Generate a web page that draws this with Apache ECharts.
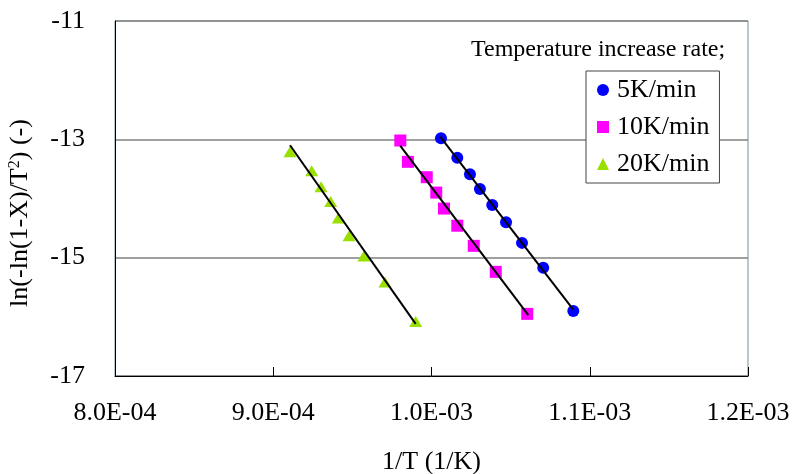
<!DOCTYPE html>
<html>
<head>
<meta charset="utf-8">
<title>Arrhenius plot</title>
<script src="https://cdn.jsdelivr.net/npm/echarts@6/dist/echarts.min.js"></script>
<style>
  html, body { margin: 0; padding: 0; background: #fff; }
  #main { width: 793px; height: 474px; }
</style>
</head>
<body>
<div id="main"></div>
<script>
// measured points, 1/T (1/K) vs ln(-ln(1-X)/T^2)
const x5 = [1.0060e-3, 1.0163e-3, 1.0243e-3, 1.0306e-3, 1.0384e-3, 1.0471e-3, 1.0572e-3, 1.0706e-3, 1.0896e-3];
const y5 = [-12.98, -13.31, -13.59, -13.84, -14.11, -14.40, -14.75, -15.17, -15.90];
const x10 = [9.803e-4, 9.851e-4, 9.970e-4, 1.0030e-3, 1.0079e-3, 1.0163e-3, 1.0267e-3, 1.0406e-3, 1.0605e-3];
const y10 = [-13.02, -13.38, -13.64, -13.90, -14.17, -14.46, -14.80, -15.24, -15.95];
const x20 = [9.106e-4, 9.243e-4, 9.302e-4, 9.363e-4, 9.411e-4, 9.479e-4, 9.573e-4, 9.706e-4, 9.900e-4];
const y20 = [-13.21, -13.53, -13.80, -14.05, -14.33, -14.63, -14.97, -15.41, -16.08];

// fitted lines (end points)
const fitX5 = [1.0056e-3, 1.0896e-3];
const fitY5 = [-12.96, -15.88];
const fitX10 = [9.803e-4, 1.0612e-3];
const fitY10 = [-13.11, -15.97];
const fitX20 = [9.106e-4, 9.900e-4];
const fitY20 = [-13.10, -16.12];

const rateNames = ['5K/min', '10K/min', '20K/min'];
const xTicks = [8.0e-4, 9.0e-4, 1.0e-3, 1.1e-3, 1.2e-3];
const yTicks = [-17, -15, -13, -11];

const font = 'Liberation Serif';
const zip = (xs, ys) => xs.map((x, i) => [x, ys[i]]);

// 8.0E-04 style
function sci(v) {
  const s = v.toExponential(1).toUpperCase();
  const parts = s.split('E');
  const exp = parseInt(parts[1], 10);
  const sign = exp < 0 ? '-' : '+';
  const mag = String(Math.abs(exp)).padStart(2, '0');
  return parts[0] + 'E' + sign + mag;
}

const chart = echarts.init(document.getElementById('main'));

function fitLine(xs, ys) {
  return {
    type: 'line',
    data: zip(xs, ys),
    showSymbol: false,
    symbol: 'none',
    lineStyle: { color: '#000', width: 2 },
    z: 3,
    silent: true
  };
}

chart.setOption({
  animation: false,
  backgroundColor: '#fff',
  title: {
    text: 'Temperature increase rate;',
    left: 471,
    top: 38,
    textStyle: { fontFamily: font, fontSize: 24, fontWeight: 'normal', color: '#000' },
    padding: 0
  },
  legend: {
    data: rateNames,
    orient: 'vertical',
    left: 586,
    top: 71,
    padding: [6, 10, 6, 11],
    itemWidth: 12,
    itemHeight: 12,
    itemGap: 11,
    borderColor: '#444',
    borderWidth: 1,
    backgroundColor: '#fff',
    textStyle: { fontFamily: font, fontSize: 26, color: '#000', lineHeight: 26, padding: [0, 0, 0, 3] }
  },
  grid: {
    left: 115,
    top: 21,
    right: 45,
    bottom: 98,
    outerBoundsMode: 'none',
    show: true,
    borderColor: '#7a8d96',
    borderWidth: 1
  },
  xAxis: {
    type: 'value',
    min: xTicks[0],
    max: xTicks[xTicks.length - 1],
    interval: 1e-4,
    name: '1/T (1/K)',
    nameLocation: 'middle',
    nameGap: 73,
    nameTextStyle: { fontFamily: font, fontSize: 26, color: '#000' },
    axisLine: { onZero: false, lineStyle: { color: '#000', width: 1 } },
    axisTick: { inside: true, length: 9, lineStyle: { color: '#000' } },
    axisLabel: {
      margin: 24,
      fontFamily: font,
      fontSize: 26,
      color: '#000',
      formatter: v => sci(v)
    },
    splitLine: { show: false }
  },
  yAxis: {
    type: 'value',
    min: yTicks[0],
    max: yTicks[yTicks.length - 1],
    interval: 2,
    name: 'ln(-ln(1-X)/T{sup|2}) (-)',
    nameLocation: 'middle',
    nameGap: 82,
    nameTextStyle: {
      fontFamily: font,
      fontSize: 26,
      color: '#000',
      padding: [0, 29, 0, 0],
      rich: {
        sup: { fontFamily: font, fontSize: 16, verticalAlign: 'top', color: '#000' }
      }
    },
    axisLine: { onZero: false, lineStyle: { color: '#000', width: 1 } },
    axisTick: { show: false },
    axisLabel: {
      margin: 30,
      fontFamily: font,
      fontSize: 26,
      color: '#000'
    },
    splitLine: { show: true, lineStyle: { color: '#808080', width: 1.5 } }
  },
  series: [
    {
      name: rateNames[0],
      type: 'scatter',
      data: zip(x5, y5),
      symbol: 'circle',
      symbolSize: 12,
      itemStyle: { color: '#0000ff', opacity: 1 },
      z: 2
    },
    {
      name: rateNames[1],
      type: 'scatter',
      data: zip(x10, y10),
      symbol: 'rect',
      symbolSize: 12,
      itemStyle: { color: '#ff00ff', opacity: 1 },
      z: 2
    },
    {
      name: rateNames[2],
      type: 'scatter',
      data: zip(x20, y20),
      symbol: 'triangle',
      symbolSize: [13, 11],
      itemStyle: { color: '#99e000', opacity: 1 },
      z: 2
    },
    fitLine(fitX5, fitY5),
    fitLine(fitX10, fitY10),
    fitLine(fitX20, fitY20)
  ]
});
</script>
</body>
</html>
